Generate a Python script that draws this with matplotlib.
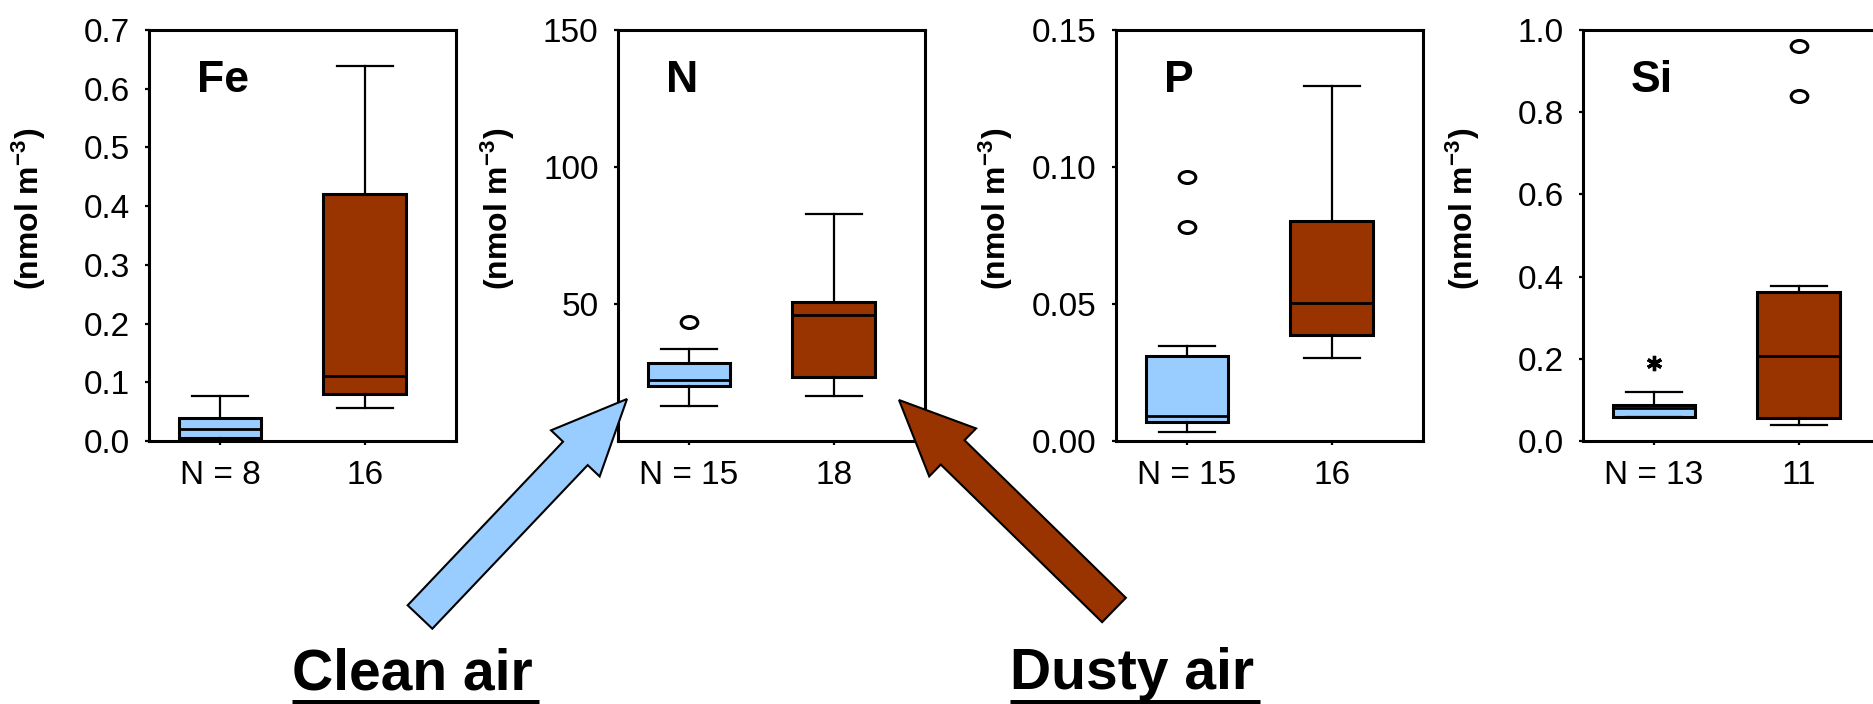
import matplotlib
matplotlib.use("Agg")
import matplotlib.pyplot as plt
from matplotlib.patches import FancyArrow
from matplotlib.path import Path
from matplotlib.transforms import Affine2D, ScaledTranslation

plt.rcParams['font.family'] = ['Liberation Sans', 'DejaVu Sans']
plt.rcParams['mathtext.default'] = 'regular'

# values: (whislo, q1, median, q3, whishi)
elements = ["Fe", "N", "P", "Si"]
clean_n = [8, 15, 15, 13]
dusty_n = [16, 18, 16, 11]
clean_stats = [
    (0.002, 0.005, 0.020, 0.039, 0.077),
    (12.8, 20.1, 22.3, 28.5, 33.6),
    (0.0033, 0.0069, 0.0091, 0.031, 0.0347),
    (0.058, 0.059, 0.080, 0.088, 0.12),
]
dusty_stats = [
    (0.056, 0.080, 0.111, 0.420, 0.639),
    (16.4, 23.4, 46.0, 50.7, 82.8),
    (0.0303, 0.0387, 0.0504, 0.0803, 0.1296),
    (0.039, 0.056, 0.207, 0.363, 0.376),
]
clean_outliers = [[], [43.4], [0.0963, 0.078], [0.19]]
dusty_outliers = [[], [], [], [0.961, 0.839]]
clean_extreme = [False, False, False, True]   # drawn as * instead of o
y_max = [0.7, 150, 0.15, 1.0]
y_ticks = [
    [0.0, 0.1, 0.2, 0.3, 0.4, 0.5, 0.6, 0.7],
    [50, 100, 150],
    [0.00, 0.05, 0.10, 0.15],
    [0.0, 0.2, 0.4, 0.6, 0.8, 1.0],
]
y_fmt = ["{:.1f}", "{:.0f}", "{:.2f}", "{:.1f}"]

CLEAN = '#99CCFF'
DUSTY = '#993300'

W, H = 1874, 704
fig = plt.figure(figsize=(W / 100, H / 100), dpi=100)

lefts = [149, 618, 1116, 1583]
ellipse = Path.unit_circle().transformed(Affine2D().scale(1, 0.72))


def make_stats(s, fl):
    lo, q1, med, q3, hi = s
    return dict(whislo=lo, q1=q1, med=med, q3=q3, whishi=hi, fliers=fl)


for i, name in enumerate(elements):
    ax = fig.add_axes([lefts[i] / W, (H - 441) / H, 307 / W, 411 / H])
    stats = [make_stats(clean_stats[i], clean_outliers[i]),
             make_stats(dusty_stats[i], dusty_outliers[i])]
    art = ax.bxp(stats, positions=[1, 2], widths=0.57, capwidths=0.39,
                 patch_artist=True, manage_ticks=False,
                 boxprops=dict(linewidth=2.2, edgecolor='black'),
                 whiskerprops=dict(linewidth=1.6, color='black'),
                 capprops=dict(linewidth=1.6, color='black'),
                 medianprops=dict(linewidth=2.0, color='black'),
                 flierprops=dict(marker=ellipse, markersize=12,
                                 markerfacecolor='none',
                                 markeredgecolor='black',
                                 markeredgewidth=2.2))
    art['boxes'][0].set_facecolor(CLEAN)
    art['boxes'][1].set_facecolor(DUSTY)
    if clean_extreme[i]:
        art['fliers'][0].set_marker((6, 2, 0))
        art['fliers'][0].set_markersize(11)
        art['fliers'][0].set_markeredgewidth(2.4)

    ax.set_xlim(0.51, 2.63)
    ax.set_ylim(0, y_max[i])
    ax.set_yticks(y_ticks[i])
    ax.set_yticklabels([y_fmt[i].format(v) for v in y_ticks[i]])
    ax.set_xticks([1, 2])
    ax.set_xticklabels([f"N = {clean_n[i]}", f"{dusty_n[i]}"])
    first = ax.get_xticklabels()[0]
    first.set_transform(first.get_transform()
                        + ScaledTranslation(-25 / 72, 0, fig.dpi_scale_trans))
    ax.tick_params(direction='out', length=3, width=1.6, labelsize=24,
                   top=False, right=False)
    ax.tick_params(axis='y', pad=11)
    ax.tick_params(axis='x', pad=11)
    for sp in ax.spines.values():
        sp.set_linewidth(2.2)

    ax.set_ylabel("(nmol m$^{-3}$)", fontsize=23, fontweight='bold')
    ax.yaxis.set_label_coords(-0.33, 0.565)
    ax.text(0.155, 0.85, name, transform=ax.transAxes, fontsize=32,
            fontweight='bold', ha='left', va='baseline')

# overlay in pixel units for the arrows and captions
ov = fig.add_axes([0, 0, 1, 1], zorder=10)
ov.set_xlim(0, W)
ov.set_ylim(H, 0)
ov.axis('off')

arrows = [((420, 617), (627, 399), CLEAN), ((1114, 610), (899, 400), DUSTY)]
for (x0, y0), (x1, y1), col in arrows:
    ov.add_patch(FancyArrow(x0, y0, x1 - x0, y1 - y0, width=34, head_width=67,
                            head_length=75, length_includes_head=True,
                            facecolor=col, edgecolor='black', linewidth=1.5))

captions = [("Clean air", 292), ("Dusty air", 1010)]
texts = []
for label, x in captions:
    texts.append(ov.text(x, 689, label, fontsize=41, fontweight='bold',
                         ha='left', va='baseline'))

fig.canvas.draw()
renderer = fig.canvas.get_renderer()
for t in texts:
    bb = t.get_window_extent(renderer)
    ov.plot([bb.x0, bb.x1 + 6], [701.5, 701.5], color='black', linewidth=3.6,
            solid_capstyle='butt')

fig.savefig("out.png", dpi=100)
